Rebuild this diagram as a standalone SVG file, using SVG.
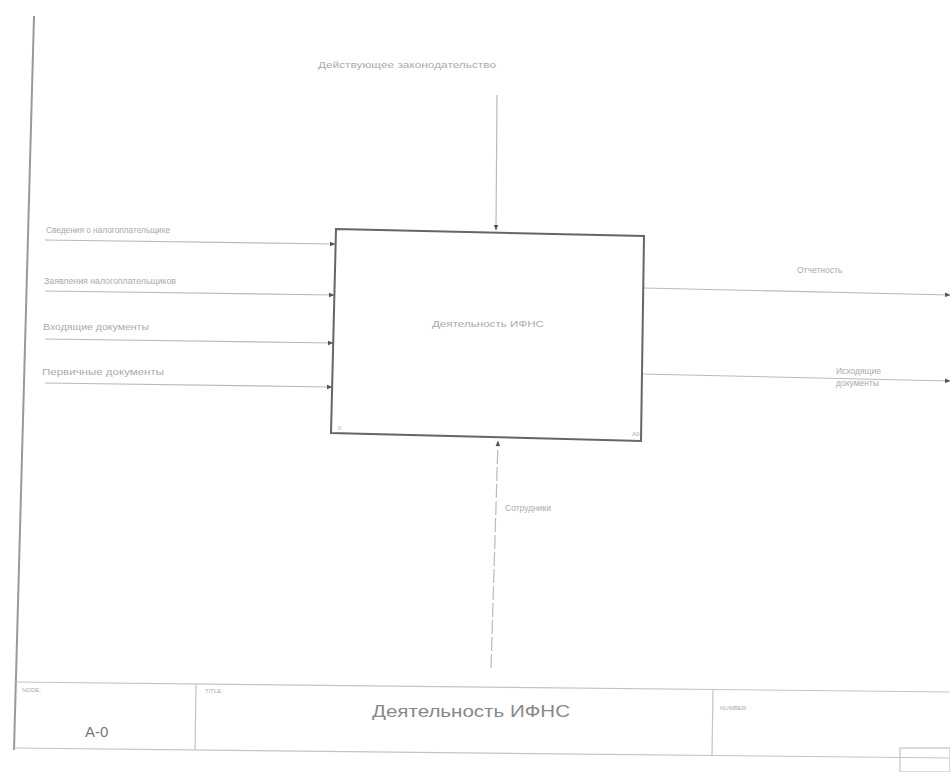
<svg xmlns="http://www.w3.org/2000/svg" width="950" height="772" viewBox="0 0 950 772">
<defs>
<marker id="arr" viewBox="0 0 10 10" refX="9" refY="5" markerWidth="5" markerHeight="5" orient="auto">
<path d="M0,1 L10,5 L0,9 z" fill="#555"/>
</marker>
<style>
.ln{stroke:#bbb;stroke-width:1.2;fill:none}
.box{stroke:#666;stroke-width:2;fill:#fff}
.lbl{font-family:"Liberation Sans",Arial,sans-serif;font-size:8.5px;fill:#aaa}
.frame{stroke:#c4c4c4;stroke-width:1.2;fill:none}
.small{font-family:"Liberation Sans",Arial,sans-serif;font-size:6px;fill:#aaa}
</style>
</defs>
<rect width="950" height="772" fill="#fff"/>
<line x1="34" y1="16" x2="14" y2="750" stroke="#999" stroke-width="2"/>
<g id="connectors">
<line class="ln" x1="497" y1="95" x2="496" y2="230" marker-end="url(#arr)"/>
<line class="ln" x1="45" y1="240" x2="335" y2="244" marker-end="url(#arr)"/>
<line class="ln" x1="45" y1="291" x2="334" y2="295" marker-end="url(#arr)"/>
<line class="ln" x1="45" y1="339" x2="333" y2="343" marker-end="url(#arr)"/>
<line class="ln" x1="45" y1="383" x2="332" y2="387" marker-end="url(#arr)"/>
<line class="ln" x1="644" y1="288" x2="950" y2="295" marker-end="url(#arr)"/>
<line class="ln" x1="642" y1="374" x2="950" y2="381" marker-end="url(#arr)"/>
<line class="ln" x1="491" y1="668" x2="498" y2="441" marker-end="url(#arr)" stroke-dasharray="14,3"/>
<text class="lbl" x="318" y="68" textLength="178" lengthAdjust="spacingAndGlyphs">Действующее законодательство</text>
<text class="lbl" x="46" y="233" textLength="124" lengthAdjust="spacingAndGlyphs">Сведения о налогоплательщике</text>
<text class="lbl" x="44" y="284" textLength="132" lengthAdjust="spacingAndGlyphs">Заявления налогоплательщиков</text>
<text class="lbl" x="43" y="330" textLength="106" lengthAdjust="spacingAndGlyphs">Входящие документы</text>
<text class="lbl" x="42" y="375" textLength="122" lengthAdjust="spacingAndGlyphs">Первичные документы</text>
<text class="lbl" x="797" y="273">Отчетность</text>
<text class="lbl" x="836" y="374">Исходящие</text>
<text class="lbl" x="836" y="386">документы</text>
<text class="lbl" x="505" y="511">Сотрудники</text>
</g>
<g id="node-A0">
<polygon class="box" points="336,229 644,236 641,441 331,433"/>
<text class="lbl" x="432" y="327" textLength="112" lengthAdjust="spacingAndGlyphs">Деятельность ИФНС</text>
<text class="small" x="338" y="430">0</text>
<text class="small" x="632" y="436">A0</text>
</g>
<g id="frame">
<line class="frame" x1="14" y1="682" x2="950" y2="692"/>
<line class="frame" x1="14" y1="748" x2="950" y2="758"/>
<line class="frame" x1="196" y1="684" x2="195" y2="750"/>
<line class="frame" x1="713" y1="690" x2="712" y2="756"/>
<rect x="900" y="748" width="50" height="24" class="frame"/>
<text class="small" x="22" y="692">NODE:</text>
<text class="small" x="205" y="693">TITLE:</text>
<text class="small" x="720" y="710">NUMBER:</text>
<text x="85" y="737" font-family="'Liberation Sans',Arial,sans-serif" font-size="15" fill="#777">А-0</text>
<text x="372" y="717" font-family="'Liberation Sans',Arial,sans-serif" font-size="16" fill="#888" textLength="198" lengthAdjust="spacingAndGlyphs">Деятельность ИФНС</text>
</g>
</svg>
